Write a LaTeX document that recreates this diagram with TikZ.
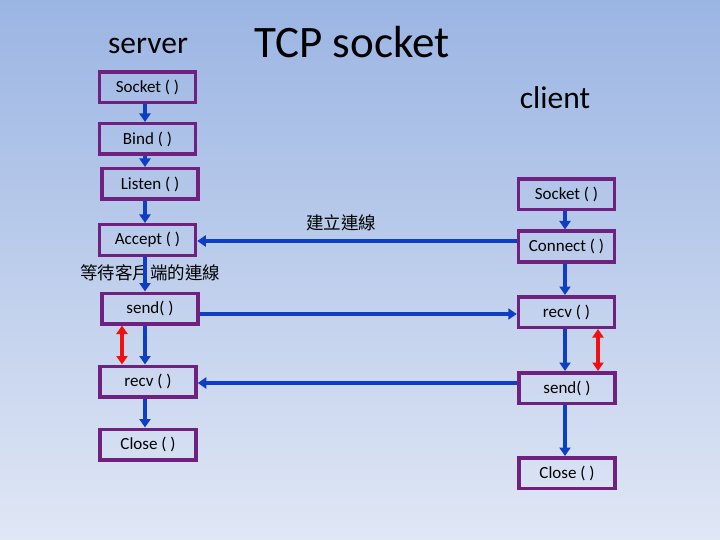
\documentclass[tikz,border=0pt]{standalone}
\usepackage{fontspec}
\setmainfont{Carlito}
\newfontfamily\cjk{Noto Sans CJK TC}
\usetikzlibrary{arrows.meta}
\definecolor{bgtop}{HTML}{9BB5E3}
\definecolor{bgbot}{HTML}{E0E7F5}
\definecolor{boxpurple}{HTML}{70207F}
\definecolor{arrblue}{HTML}{0E3FC2}
\definecolor{arrred}{HTML}{F01010}
\begin{document}
\begin{tikzpicture}[x=1pt,y=-1pt,
  box/.style={draw=boxpurple, line width=3.5pt, minimum width=96pt, minimum height=30.5pt, inner sep=0pt, font=\fontsize{17}{20}\selectfont},
  barrow/.style={draw=arrblue, line width=3.2pt, -{Triangle[width=11pt,length=8.5pt]}, arrblue},
  rarrow/.style={draw=arrred, line width=3.2pt, {Triangle[width=11pt,length=8.5pt]}-{Triangle[width=11pt,length=8.5pt]}, arrred},
  cjktext/.style={font=\cjk\fontsize{17.5}{20}\selectfont}]
\useasboundingbox (0,0) rectangle (720,540);
\shade[top color=bgtop, bottom color=bgbot] (0,0) rectangle (720,540);

% titles
\node[font=\fontsize{31.5}{36}\selectfont] (tserver) at (148,46) {server};
\node[font=\fontsize{45}{52}\selectfont] (ttitle) at (352,42) {TCP socket};
\node[font=\fontsize{31.5}{36}\selectfont] (tclient) at (555,98) {client};

% server boxes
\node[box] (ls) at (147.5,87.5) {Socket ( )};
\node[box] (lb) at (147.5,139) {Bind ( )};
\node[box] (ll) at (150,184) {Listen ( )};
\node[box] (la) at (147.5,240) {Accept ( )};
\node[box] (lsend) at (150,308.5) {send( )};
\node[box] (lrecv) at (148,381.5) {recv ( )};
\node[box] (lc) at (148,444.5) {Close ( )};

% client boxes
\node[box] (rs) at (566.5,194.5) {Socket ( )};
\node[box] (rcon) at (566.5,246.5) {Connect ( )};
\node[box] (rrecv) at (566.5,312) {recv ( )};
\node[box] (rsend) at (567,388) {send( )};
\node[box] (rc) at (567,473) {Close ( )};

% labels
\node[cjktext] (wait) at (150,273) {等待客戶端的連線};
\node[cjktext] (conn) at (341,223) {建立連線};

% helper coordinates
\coordinate (lx) at (145,0);
\coordinate (rx) at (565,0);
\coordinate (lred) at (122,0);
\coordinate (rred) at (598,0);
\coordinate (h1) at (0,241);
\coordinate (h2) at (0,314);
\coordinate (h3) at (0,383);

% server vertical arrows
\draw[barrow] (ls.south -| lx) -- (lb.north -| lx);
\draw[barrow] (lb.south -| lx) -- (ll.north -| lx);
\draw[barrow] (ll.south -| lx) -- (la.north -| lx);
\draw[barrow] (la.south -| lx) -- (lsend.north -| lx);
\draw[barrow] (lsend.south -| lx) -- (lrecv.north -| lx);
\draw[barrow] (lrecv.south -| lx) -- (lc.north -| lx);

% client vertical arrows
\draw[barrow] (rs.south -| rx) -- (rcon.north -| rx);
\draw[barrow] (rcon.south -| rx) -- (rrecv.north -| rx);
\draw[barrow] (rrecv.south -| rx) -- (rsend.north -| rx);
\draw[barrow] (rsend.south -| rx) -- (rc.north -| rx);

% horizontal arrows
\draw[barrow] (rcon.west |- h1) -- (la.east |- h1);
\draw[barrow] (lsend.east |- h2) -- (rrecv.west |- h2);
\draw[barrow] (rsend.west |- h3) -- (lrecv.east |- h3);

% red double arrows
\draw[rarrow] (lsend.south -| lred) -- (lrecv.north -| lred);
\draw[rarrow] (rrecv.south -| rred) -- (rsend.north -| rred);
\end{tikzpicture}
\end{document}
